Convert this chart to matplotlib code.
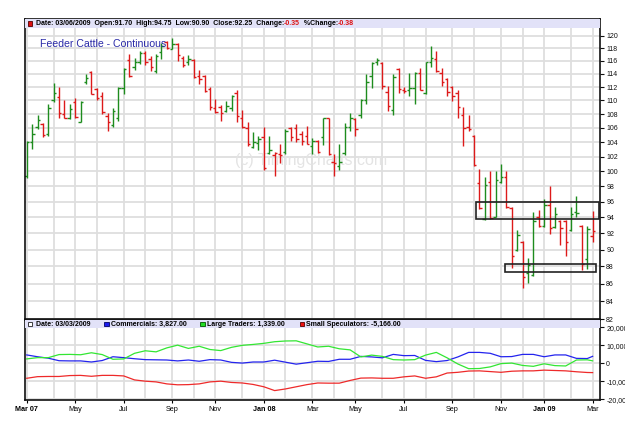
import numpy as np
import pandas as pd
import matplotlib
matplotlib.use("Agg")
import matplotlib.pyplot as plt
from matplotlib.patches import Rectangle
from matplotlib.ticker import NullLocator

plt.rcParams["font.family"] = ["Liberation Sans", "DejaVu Sans"]

# weekly OHLC, Feeder Cattle continuous, Mar 2007 - Mar 2009
opens = [99.4, 104.0, 106.2, 106.5, 105.1, 110.1, 110.5, 108.0, 107.4, 109.8,
         106.9, 112.8, 114.3, 111.7, 110.6, 107.7, 106.4, 107.4, 111.9, 116.2,
         115.0, 115.9, 117.2, 116.3, 114.5, 117.4, 119.0, 117.9, 118.7, 116.4,
         115.9, 116.2, 113.6, 113.6, 111.7, 108.9, 109.0, 108.4, 108.9, 111.1,
         107.4, 106.0, 103.3, 103.9, 104.7, 102.5, 102.2, 102.4, 102.6, 106.0,
         106.0, 105.2, 104.8, 103.4, 104.2, 104.7, 107.4, 101.3, 100.7, 102.5,
         106.1, 107.3, 107.9, 110.1, 113.6, 115.8, 115.7, 111.2, 108.6, 114.7,
         111.6, 111.6, 111.8, 114.1, 111.1, 115.9, 116.3, 114.2, 113.2, 112.0,
         111.1, 107.9, 106.1, 104.9, 98.5, 93.8, 98.6, 94.1, 98.6, 99.2,
         95.2, 90.0, 91.0, 87.2, 87.0, 94.0, 92.9, 95.6, 92.8, 93.6,
         93.6, 92.4, 94.7, 92.9, 88.9, 91.70]
highs = [104.2, 106.5, 107.8, 106.7, 109.4, 112.6, 112.0, 110.1, 109.4, 110.4,
         109.9, 114.0, 114.4, 111.8, 111.3, 108.2, 108.9, 112.0, 114.9, 117.1,
         116.5, 117.6, 117.5, 116.7, 117.1, 118.8, 119.1, 119.7, 118.8, 116.7,
         116.9, 116.3, 114.6, 113.8, 112.0, 110.2, 109.3, 109.9, 110.8, 111.6,
         108.6, 106.8, 105.4, 104.8, 106.1, 104.9, 102.6, 103.7, 105.9, 106.1,
         106.6, 105.5, 106.3, 104.6, 104.3, 107.5, 107.5, 102.4, 103.7, 106.7,
         108.2, 107.4, 110.2, 113.9, 115.9, 116.5, 115.9, 112.1, 113.9, 114.9,
         112.0, 114.1, 114.3, 114.9, 115.9, 118.3, 117.5, 114.9, 113.3, 112.1,
         111.6, 109.0, 107.8, 105.0, 100.3, 99.3, 100.0, 100.1, 101.0, 100.0,
         95.3, 92.4, 91.1, 89.0, 94.7, 95.0, 96.4, 98.0, 95.3, 93.7,
         93.7, 95.3, 96.8, 93.0, 92.9, 94.75]
lows = [99.1, 103.0, 105.8, 104.7, 104.9, 109.8, 107.5, 107.4, 107.3, 107.4,
        106.8, 112.5, 110.9, 110.1, 108.0, 105.5, 106.1, 107.0, 110.9, 113.5,
        114.6, 115.5, 115.4, 114.4, 114.1, 116.3, 117.9, 117.8, 116.0, 115.0,
        115.4, 113.3, 112.5, 111.3, 108.6, 108.2, 107.0, 108.3, 108.4, 106.9,
        106.0, 103.4, 103.2, 102.9, 100.2, 102.4, 99.4, 101.1, 102.4, 104.2,
        104.0, 103.6, 103.7, 102.3, 102.5, 103.6, 102.2, 99.4, 100.2, 102.2,
        105.6, 104.9, 107.4, 109.5, 111.8, 115.3, 111.7, 108.4, 107.9, 111.1,
        111.1, 110.6, 109.5, 111.5, 111.0, 115.0, 114.3, 112.1, 110.7, 109.9,
        107.5, 103.5, 105.5, 100.7, 95.1, 93.7, 93.8, 94.0, 98.4, 95.2,
        87.8, 89.9, 85.5, 86.1, 86.9, 92.8, 92.8, 91.9, 92.7, 90.6,
        89.3, 92.3, 94.1, 87.6, 87.7, 90.90]
closes = [104.0, 105.1, 107.2, 105.0, 108.9, 111.1, 108.2, 107.5, 108.7, 107.6,
          109.8, 113.4, 111.0, 110.4, 108.3, 106.9, 108.4, 111.8, 114.8, 113.6,
          115.9, 117.2, 115.9, 115.0, 116.7, 118.3, 118.0, 118.7, 116.9, 115.3,
          116.3, 113.5, 113.2, 111.4, 109.0, 108.3, 108.2, 109.2, 110.6, 107.7,
          106.1, 103.7, 104.0, 104.5, 100.4, 102.9, 102.5, 102.2, 105.6, 104.7,
          104.5, 104.2, 103.8, 104.1, 102.6, 107.4, 102.3, 101.1, 101.3, 106.1,
          107.4, 105.8, 110.1, 112.8, 115.6, 116.2, 112.1, 109.2, 113.5, 111.7,
          111.4, 111.8, 114.1, 111.6, 115.9, 116.5, 114.5, 112.8, 111.3, 110.7,
          109.0, 106.0, 105.8, 100.8, 95.2, 98.2, 93.9, 98.8, 99.2, 95.3,
          89.3, 91.8, 86.8, 88.2, 93.5, 92.9, 95.6, 92.7, 94.4, 92.7,
          90.9, 94.4, 94.6, 88.3, 92.6, 92.25]

# COT net positions, read every second week (last point = last week)
commercials = [4600, 3600, 2800, 1400, 1300, 1300, 700, 1500, 3600, 3100,
               2500, 2000, 1900, 1800, 1300, 1800, 1100, 2000, 1800, 500,
               100, 700, 700, 1700, 600, -500, 300, 1100, 1000, 2200,
               2200, 3800, 3500, 3000, 4900, 4200, 4300, 1600, 900, 1500,
               3500, 6000, 6000, 5500, 3600, 3700, 4900, 4900, 3600, 4600,
               4600, 2700, 2600, 3827]
large_traders = [2400, 3100, 3100, 4800, 4900, 4700, 5800, 4800, 2200, 2400,
                 5500, 6900, 6300, 8500, 10000, 8200, 9400, 7600, 7000, 8800,
                 9900, 10400, 11000, 11900, 12300, 12400, 10700, 9000, 9400, 8000,
                 7400, 3500, 4500, 3800, 2000, 1800, 2000, 4500, 6000, 3000,
                 -400, -3000, -2900, -2000, -200, 100, -1200, -1700, -300, -1300,
                 -1500, 1800, 1900, 1339]
small_specs = [-8300, -7400, -7300, -7300, -6800, -6700, -7200, -6700, -6700, -7000,
               -9200, -9900, -10300, -11400, -11900, -11800, -11400, -10300, -9900, -10600,
               -10900, -11700, -13000, -15100, -14200, -13000, -11800, -10900, -11000, -11000,
               -9500, -8200, -8100, -8300, -8300, -7500, -7000, -8300, -7500, -5400,
               -5000, -4300, -4200, -4600, -5000, -4400, -4200, -4200, -3800, -4000,
               -4200, -4700, -5100, -5166]
cot_date = "03/03/2009"

# support / resistance boxes (bar index from, bar index to, low, high)
box_upper = (83.3, 106.2, 93.8, 96.0)
box_lower = (88.75, 105.6, 87.3, 88.35)

n = len(closes)
dates = pd.date_range("2007-03-02", periods=n, freq="W-FRI")
x = np.arange(n)
cot_x = np.r_[np.arange(0, n - 1, 2), n - 1]

GREEN = "#1e8c1e"
RED = "#dd1a1a"
cols = [GREEN] + [GREEN if closes[i] >= closes[i - 1] else RED for i in range(1, n)]

W, H = 625, 423
fig = plt.figure(figsize=(W / 100, H / 100), dpi=100)
ax = fig.add_axes([25 / W, 1 - 319 / H, 575 / W, 300 / H])
ax2 = fig.add_axes([25 / W, 1 - 400 / H, 575 / W, 80 / H], sharex=ax)

# month gridlines / labels at the first bar of each month
month_pos = [i for i in range(n) if i == 0 or dates[i].month != dates[i - 1].month]
lab_pos, lab_txt, lab_bold = [], [], []
for i in month_pos:
    d = dates[i]
    if d.month % 2 == 1:
        lab_pos.append(i)
        if i == 0 or d.month == 1:
            lab_txt.append(d.strftime("%b %y"))
            lab_bold.append(True)
        else:
            lab_txt.append(d.strftime("%b"))
            lab_bold.append(False)

grid_c = "#dedede"
for a in (ax, ax2):
    for i in month_pos:
        a.axvline(i, color=grid_c, lw=1.3, zorder=0.5)
    for s in a.spines.values():
        s.set_linewidth(1.2)
        s.set_color("#111111")

# ---- price panel
ax.set_yscale("log")
ax.set_ylim(82, 122.72)
ax.set_xlim(-0.32, 106.37)
yt = list(range(82, 121, 2))
for v in yt:
    ax.axhline(v, color=grid_c, lw=1.3, zorder=0.5)
ax.set_yticks(yt)
ax.set_yticklabels([str(v) for v in yt])
ax.yaxis.set_minor_locator(NullLocator())
ax.yaxis.tick_right()
ax.tick_params(axis="y", labelsize=5, length=3, width=0.8, pad=1.5, colors="#111111")
ax.tick_params(axis="x", bottom=False, labelbottom=False)

ax.vlines(x, lows, highs, colors=cols, lw=1.0, zorder=2)
ax.hlines(opens, x - 0.45, x, colors=cols, lw=1.0, zorder=2)
ax.hlines(closes, x, x + 0.45, colors=cols, lw=1.0, zorder=2)

for b in (box_upper, box_lower):
    ax.add_patch(Rectangle((b[0], b[2]), b[1] - b[0], b[3] - b[2], fill=False,
                           ec="#222222", lw=1.2, zorder=3))

ax.text(0.497, 0.53, "(c) TimingCharts.com", transform=ax.transAxes, ha="center",
        va="center", fontsize=11.5, color="#e4e4e4", zorder=1)
ax.text((40 - 25) / 575, 1 - (44 - 19) / 300, "Feeder Cattle - Continuous",
        transform=ax.transAxes, va="center", fontsize=7.6, color="#2a2aa8", zorder=4)

hdr_bg = "#e2e2f8"
ax.add_patch(Rectangle((0, 1 - 8.5 / 300), 1, 8.5 / 300, transform=ax.transAxes,
                       fc=hdr_bg, ec="none", zorder=3))

# ---- COT panel
cot_ticks = [-20000, -10000, 0, 10000, 20000]
ax2.set_ylim(-20300, 23900)
for v in cot_ticks:
    ax2.axhline(v, color=grid_c, lw=1.3, zorder=0.5)
ax2.set_yticks(cot_ticks)
ax2.set_yticklabels(["{:,}".format(v) for v in cot_ticks])
ax2.yaxis.tick_right()
ax2.tick_params(axis="y", labelsize=5, length=3, width=0.8, pad=1.5, colors="#111111")
ax2.plot(cot_x, commercials, color="#2424ee", lw=0.9, zorder=2)
ax2.plot(cot_x, large_traders, color="#33e633", lw=0.9, zorder=2)
ax2.plot(cot_x, small_specs, color="#ee2a2a", lw=0.9, zorder=2)
ax2.add_patch(Rectangle((0, 0.9), 1, 0.1, transform=ax2.transAxes,
                        fc=hdr_bg, ec="none", zorder=3))

ax2.set_xticks(lab_pos)
ax2.set_xticklabels(lab_txt)
for t, bold in zip(ax2.get_xticklabels(), lab_bold):
    t.set_fontsize(5.2)
    t.set_fontweight("bold" if bold else "normal")
ax2.tick_params(axis="x", length=2, width=0.8, pad=2)


def fig_square(px, py, color, edge="none", size=4.5):
    fig.add_artist(Rectangle((px / W, 1 - (py + size / 2) / H), size / W, size / H,
                             transform=fig.transFigure, fc=color, ec=edge, lw=0.6))


def seg_text(parts, px, py):
    # header pieces chained one after another, each starting where the last ended
    last = None
    for txt, c in parts:
        if last is None:
            last = fig.text(px / W, 1 - py / H, txt, fontsize=5, fontweight="bold",
                            color=c, va="center", ha="left")
        else:
            last = ax.annotate(txt, xy=(1, 0.5), xycoords=last, va="center", ha="left",
                               fontsize=5, fontweight="bold", color=c,
                               annotation_clip=False)


chg = closes[-1] - closes[-2]
pchg = chg / closes[-2] * 100
fig_square(27.5, 23.5, "#dd1111", edge="#550000")
seg_text([("Date: {}  Open:{:.2f}  High:{:.2f}  Low:{:.2f}  Close:{:.2f}  Change:".format(
              dates[-1].strftime("%m/%d/%Y"), opens[-1], highs[-1], lows[-1], closes[-1]), "black"),
          ("{:.2f}".format(chg), "#dd1111"),
          ("  %Change:", "black"),
          ("{:.2f}".format(pchg), "#dd1111")], 35.7, 23.7)

fig_square(27.5, 324, "white", edge="#222222")
seg_text([("Date: " + cot_date, "black")], 35.7, 324)
fig_square(104, 324, "#1a1aee", edge="#000066")
seg_text([("Commercials: {:,.2f}".format(commercials[-1]), "black")], 111, 324)
fig_square(200, 324, "#22dd22", edge="#005500")
seg_text([("Large Traders: {:,.2f}".format(large_traders[-1]), "black")], 207, 324)
fig_square(299.5, 324, "#ee1111", edge="#550000")
seg_text([("Small Speculators: {:,.2f}".format(small_specs[-1]), "black")], 306.5, 324)

fig.savefig("out.png", dpi=100)
